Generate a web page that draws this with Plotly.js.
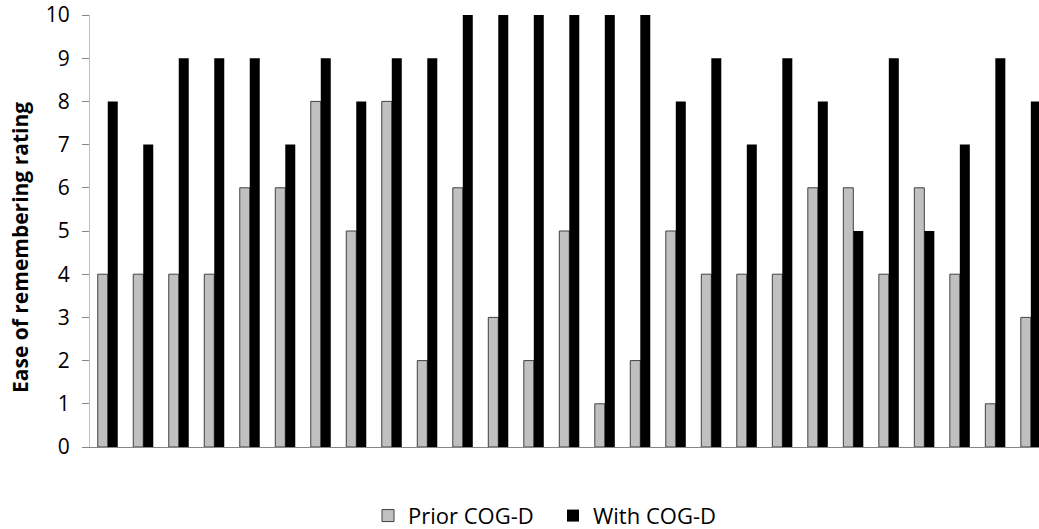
<!DOCTYPE html>
<html>
<head>
<meta charset="utf-8">
<script src="https://cdn.plot.ly/plotly-3.0.1.min.js"></script>
<style>html,body{margin:0;padding:0;background:#fff;}#chart{width:1039px;height:529px;}</style>
</head>
<body>
<div id="chart"></div>
<script>
var categories = ["1","2","3","4","5","6","7","8","9","10","11","12","13","14","15","16","17","18","19","20","21","22","23","24","25","26","27"];
var priorCOGD = [4,4,4,4,6,6,8,5,8,2,6,3,2,5,1,2,5,4,4,4,6,6,4,6,4,1,3];
var withCOGD  = [8,7,9,9,9,7,9,8,9,9,10,10,10,10,10,10,8,9,7,9,8,5,9,5,7,9,8];
var yTicks = [0,1,2,3,4,5,6,7,8,9,10];
var yTitle = 'Ease of remembering rating';

var font = "'Open Sans', 'Liberation Sans', sans-serif";
var traces = [
  {type:'bar', name:'Prior COG-D', x:categories, y:priorCOGD,
   marker:{color:'#c0c0c0', line:{color:'#404040', width:1}}},
  {type:'bar', name:'With COG-D', x:categories, y:withCOGD,
   marker:{color:'#000000', line:{color:'#000000', width:0}}}
];
var layout = {
  width:1039, height:529,
  margin:{l:90, r:0, t:15, b:82},
  paper_bgcolor:'#fff', plot_bgcolor:'#fff',
  barmode:'group', bargap:0.437, bargroupgap:0,
  showlegend:true,
  legend:{orientation:'h', xref:'container', yref:'container', x:368/1039, xanchor:'left', y:0.025, yanchor:'middle',
          font:{family:font, size:22, color:'#000'}, itemwidth:30, entrywidth:140, traceorder:'normal'},
  xaxis:{type:'category', range:[-0.5, 26.23], showticklabels:false, ticks:'', showgrid:false,
         showline:true, linecolor:'#868686', linewidth:1, zeroline:false, fixedrange:true},
  yaxis:{range:[0,10], tickvals:yTicks, ticktext:yTicks.map(String), ticks:'outside', ticklen:7, tickcolor:'#868686',
         showgrid:false, showline:true, linecolor:'#bfbfbf', linewidth:1, zeroline:false,
         tickfont:{family:font, size:21, color:'#000'}, ticklabelstandoff:8},
  annotations:[{text:'<b>'+yTitle+'</b>', textangle:-90, xref:'paper', yref:'paper',
                x:-70/949, y:(447-248)/432, xanchor:'center', yanchor:'middle', showarrow:false,
                font:{family:font, size:21, color:'#000'}}]
};
Plotly.newPlot('chart', traces, layout, {displayModeBar:false, staticPlot:true});
</script>
</body>
</html>
